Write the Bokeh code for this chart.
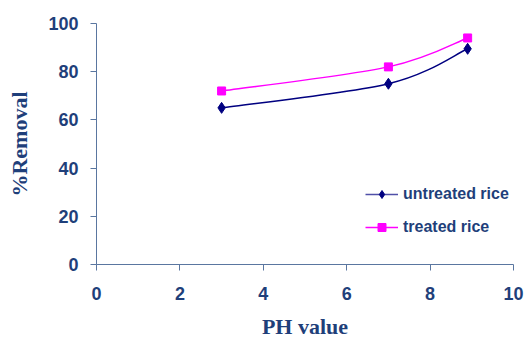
from bokeh.plotting import figure
from bokeh.models import Range1d, Legend, LegendItem, FixedTicker
from bokeh.embed import file_html
from bokeh.resources import INLINE

ph = [3, 7, 8.9]
untreated = [65, 75, 89.5]
treated = [72, 82, 94]
x_ticks = [0, 2, 4, 6, 8, 10]
y_ticks = [0, 20, 40, 60, 80, 100]

TXT = "#1F3F7A"
AX = "#5A76A0"

p = figure(frame_width=417, frame_height=241, output_backend="svg", toolbar_location=None,
           x_range=Range1d(0, 10), y_range=Range1d(0, 100),
           min_border_left=96, min_border_right=15, min_border_top=23, min_border_bottom=70)
p.outline_line_color = None
p.xgrid.visible = False
p.ygrid.visible = False
p.background_fill_color = "white"
p.border_fill_color = "white"


def smooth(xs, ys):
    # Catmull-Rom style control points computed from data points (display smoothing only)
    n = len(xs)
    segs = {"x0": [], "y0": [], "x1": [], "y1": [], "cx0": [], "cy0": [], "cx1": [], "cy1": []}
    for i in range(n - 1):
        xp, yp = (xs[i - 1], ys[i - 1]) if i > 0 else (xs[i], ys[i])
        xn, yn = (xs[i + 2], ys[i + 2]) if i + 2 < n else (xs[i + 1], ys[i + 1])
        segs["x0"].append(xs[i]); segs["y0"].append(ys[i])
        segs["x1"].append(xs[i + 1]); segs["y1"].append(ys[i + 1])
        segs["cx0"].append(xs[i] + (xs[i + 1] - xp) / 6)
        segs["cy0"].append(ys[i] + (ys[i + 1] - yp) / 6)
        segs["cx1"].append(xs[i + 1] - (xn - xs[i]) / 6)
        segs["cy1"].append(ys[i + 1] - (yn - ys[i]) / 6)
    return segs


su = smooth(ph, untreated)
st = smooth(ph, treated)
p.bezier(x0=su["x0"], y0=su["y0"], x1=su["x1"], y1=su["y1"], cx0=su["cx0"], cy0=su["cy0"],
         cx1=su["cx1"], cy1=su["cy1"], line_color="#000080", line_width=1.5)
p.bezier(x0=st["x0"], y0=st["y0"], x1=st["x1"], y1=st["y1"], cx0=st["cx0"], cy0=st["cy0"],
         cx1=st["cx1"], cy1=st["cy1"], line_color="#FF00FF", line_width=1.5)
mu = p.scatter(ph, untreated, marker="diamond", size=11, fill_color="#000080", line_color="#000080")
mt = p.scatter(ph, treated, marker="square", size=8, fill_color="#FF00FF", line_color="#FF00FF")

# legend glyph proxies (a single point line draws nothing on the plot)
lu = p.line([ph[0]], [untreated[0]], line_color="#5050A8", line_width=1.5)
lt = p.line([ph[0]], [treated[0]], line_color="#FF00FF", line_width=1.5)
legend = Legend(items=[LegendItem(label="untreated rice", renderers=[lu, mu]),
                       LegendItem(label="treated rice", renderers=[lt, mt])],
                location=(269, 27), orientation="vertical")
legend.label_text_font = "Liberation Sans"
legend.label_text_font_style = "bold"
legend.label_text_font_size = "16px"
legend.label_text_color = TXT
legend.background_fill_alpha = 0
legend.border_line_alpha = 0
legend.glyph_width = 33
legend.glyph_height = 20
legend.spacing = 13
legend.padding = 0
legend.margin = 0
legend.label_standoff = 5
p.add_layout(legend)

for ax, ticks in ((p.xaxis, x_ticks), (p.yaxis, y_ticks)):
    ax.ticker = FixedTicker(ticks=ticks)
    ax.axis_line_color = AX
    ax.major_tick_line_color = AX
    ax.major_tick_out = 6
    ax.major_tick_in = 0
    ax.minor_tick_line_color = None
    ax.major_label_text_font = "Liberation Sans"
    ax.major_label_text_font_style = "bold"
    ax.major_label_text_font_size = "18px"
    ax.major_label_text_color = TXT
    ax.axis_label_text_font = "Liberation Serif"
    ax.axis_label_text_font_style = "bold"
    ax.axis_label_text_font_size = "22px"
    ax.axis_label_text_color = TXT

p.xaxis.axis_label = "PH value"
p.yaxis.axis_label = "%Removal"
p.xaxis.major_label_standoff = 16
p.yaxis.major_label_standoff = 12
p.xaxis.axis_label_standoff = 11
p.yaxis.axis_label_standoff = 13

open("out.html", "w").write(file_html(p, INLINE))
